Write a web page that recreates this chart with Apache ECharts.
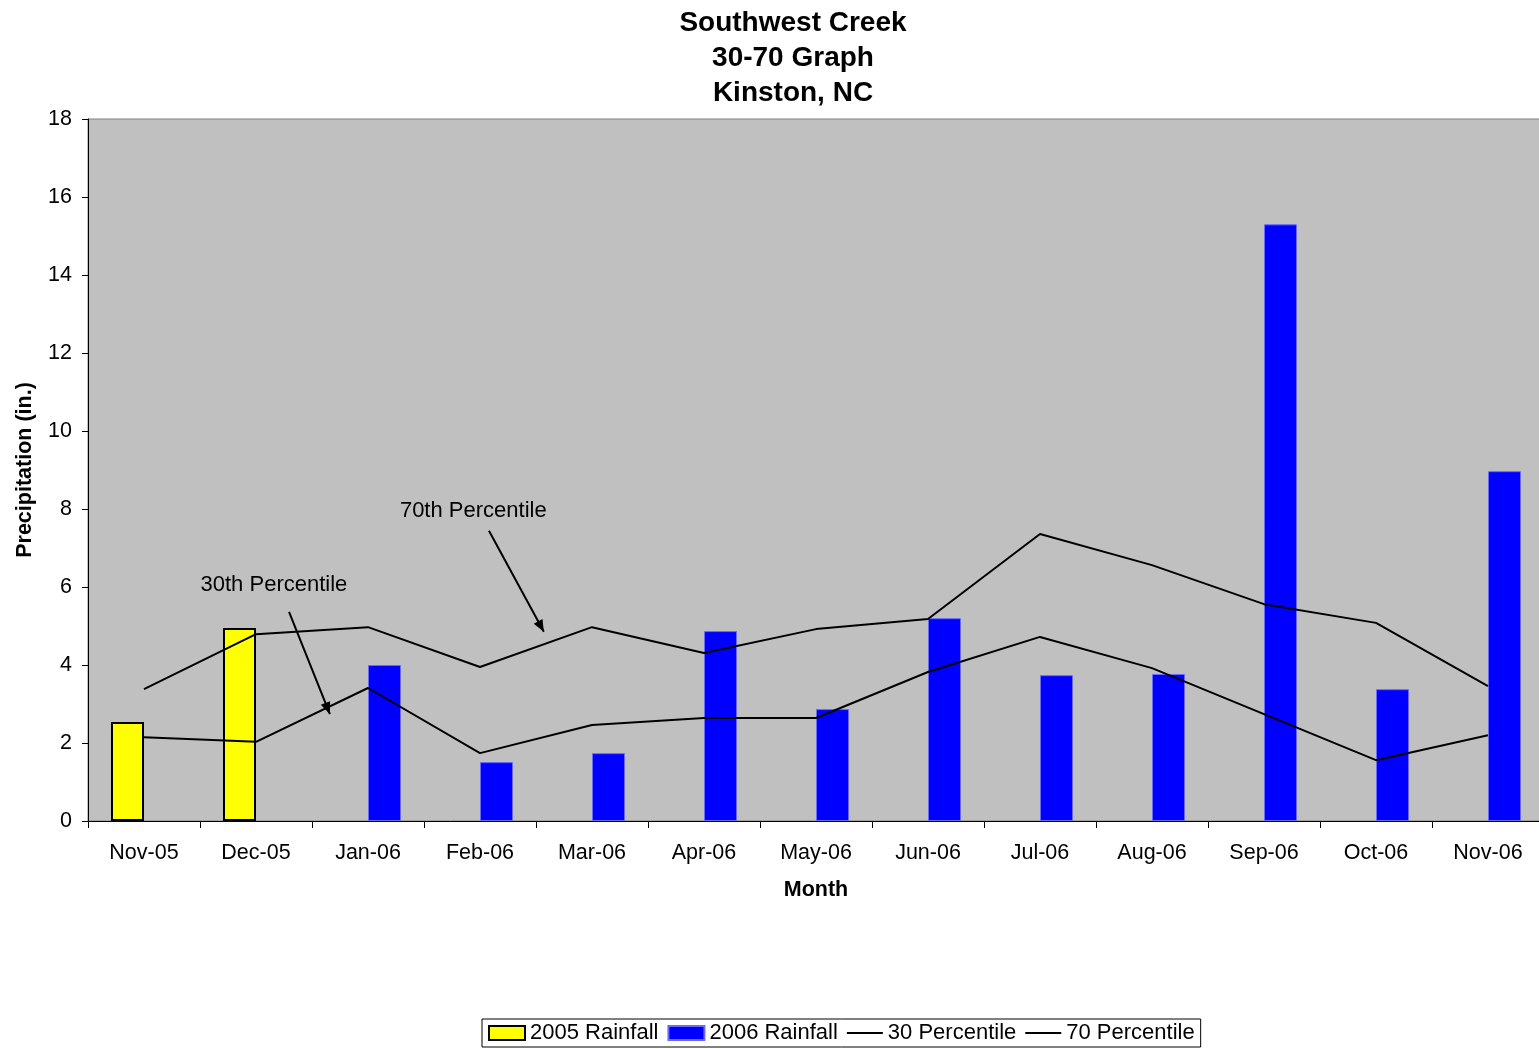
<!DOCTYPE html>
<html>
<head>
<meta charset="utf-8">
<script src="https://cdn.jsdelivr.net/npm/echarts@6/dist/echarts.min.js"></script>
<style>
  html, body { margin: 0; padding: 0; background: #fff; overflow: hidden; }
  #chart { width: 1539px; height: 1049px; }
</style>
</head>
<body>
<div id="chart"></div>
<script>
const months = ['Nov-05', 'Dec-05', 'Jan-06', 'Feb-06', 'Mar-06', 'Apr-06', 'May-06',
  'Jun-06', 'Jul-06', 'Aug-06', 'Sep-06', 'Oct-06', 'Nov-06'];
const rain2005 = [2.54, 4.95, '-', '-', '-', '-', '-', '-', '-', '-', '-', '-', '-'];
const rain2006 = ['-', '-', 4.0, 1.51, 1.74, 4.87, 2.87, 5.2, 3.74, 3.77, 15.3, 3.38, 8.97];
const pct30 = [2.15, 2.03, 3.41, 1.74, 2.46, 2.64, 2.64, 3.82, 4.72, 3.92, 2.74, 1.56, 2.2];
const pct70 = [3.38, 4.79, 4.97, 3.95, 4.97, 4.31, 4.92, 5.18, 7.36, 6.56, 5.56, 5.08, 3.46];
const yTicks = [0, 2, 4, 6, 8, 10, 12, 14, 16, 18];

// callouts: text position and arrow, in category index / value units
const callouts = [
  { text: '70th Percentile', at: [2.94, 7.95], from: [3.08, 7.44], to: [3.57, 4.85] },
  { text: '30th Percentile', at: [1.16, 6.05], from: [1.295, 5.36], to: [1.66, 2.74] }
];

const font = 'Liberation Sans, Arial, sans-serif';
const lineIcon = 'path://M0,0H36V2H0Z';
const chart = echarts.init(document.getElementById('chart'));

const option = {
  animation: false,
  textStyle: { fontFamily: font, color: '#000' },
  title: {
    text: 'Southwest Creek\n30-70 Graph\nKinston, NC',
    left: 788,
    textAlign: 'center',
    top: 1,
    textStyle: { fontFamily: font, fontSize: 28, fontWeight: 'bold', lineHeight: 35, color: '#000' }
  },
  legend: {
    left: 482,
    top: 1019,
    padding: [3, 6, 3, 6],
    borderColor: '#000',
    borderWidth: 1,
    itemWidth: 36,
    itemHeight: 14,
    itemGap: 9,
    symbolKeepAspect: true,
    textStyle: { fontFamily: font, fontSize: 22, color: '#000' },
    data: [
      { name: '2005 Rainfall', icon: 'rect' },
      { name: '2006 Rainfall', icon: 'rect' },
      { name: '30 Percentile', icon: lineIcon },
      { name: '70 Percentile', icon: lineIcon }
    ]
  },
  grid: {
    left: 88, right: -5, top: 119, bottom: 228,
    outerBoundsMode: 'none',
    containLabel: false,
    show: true,
    backgroundColor: '#c0c0c0',
    borderColor: '#808080',
    borderWidth: 1
  },
  xAxis: {
    type: 'category',
    data: months,
    boundaryGap: true,
    name: 'Month',
    nameLocation: 'middle',
    nameGap: 58,
    nameTextStyle: { fontFamily: font, fontSize: 21.5, fontWeight: 'bold', color: '#000' },
    axisLine: { lineStyle: { color: '#000', width: 1 } },
    axisTick: { show: true, length: 7, alignWithLabel: false, lineStyle: { color: '#000' } },
    axisLabel: { fontFamily: font, fontSize: 21.5, color: '#000', margin: 21, interval: 0 },
    splitLine: { show: false }
  },
  yAxis: {
    type: 'value',
    min: 0,
    max: 18,
    interval: 2,
    name: 'Precipitation (in.)',
    nameLocation: 'middle',
    nameGap: 52,
    nameTextStyle: { fontFamily: font, fontSize: 21.5, fontWeight: 'bold', color: '#000' },
    axisLine: { show: true, lineStyle: { color: '#000', width: 1 } },
    axisTick: { show: true, length: 6, lineStyle: { color: '#000' } },
    axisLabel: {
      fontFamily: font, fontSize: 21.5, color: '#000', margin: 16,
      formatter: v => yTicks.includes(v) ? String(v) : ''
    },
    splitLine: { show: false }
  },
  series: [
    {
      name: '2005 Rainfall',
      type: 'bar',
      data: rain2005,
      barWidth: 33,
      barGap: '0%',
      itemStyle: { color: '#ffff00', borderColor: '#000', borderWidth: 2 },
      z: 2
    },
    {
      name: '2006 Rainfall',
      type: 'bar',
      data: rain2006,
      barWidth: 33,
      barGap: '0%',
      itemStyle: { color: '#0000ff', borderColor: '#6a6aff', borderWidth: 1 },
      z: 2
    },
    {
      name: '30 Percentile',
      type: 'line',
      data: pct30,
      symbol: 'none',
      lineStyle: { color: '#000', width: 2 },
      itemStyle: { color: '#000' },
      z: 3
    },
    {
      name: '70 Percentile',
      type: 'line',
      data: pct70,
      symbol: 'none',
      lineStyle: { color: '#000', width: 2 },
      itemStyle: { color: '#000' },
      z: 3
    }
  ]
};

chart.setOption(option);

// annotations placed from data coordinates (fractional category index interpolated)
const toPx = p => {
  const i0 = Math.floor(p[0]);
  const a = chart.convertToPixel({ gridIndex: 0 }, [i0, p[1]]);
  const b = chart.convertToPixel({ gridIndex: 0 }, [i0 + 1, p[1]]);
  return [a[0] + (p[0] - i0) * (b[0] - a[0]), a[1]];
};
const graphics = [];
callouts.forEach(c => {
  const t = toPx(c.at);
  const a = toPx(c.from);
  const b = toPx(c.to);
  graphics.push({
    type: 'text',
    x: t[0], y: t[1],
    style: { text: c.text, fontFamily: font, fontSize: 22, fill: '#000', align: 'center', verticalAlign: 'middle' },
    z: 10
  });
  graphics.push({
    type: 'line',
    shape: { x1: a[0], y1: a[1], x2: b[0], y2: b[1] },
    style: { stroke: '#000', lineWidth: 2 },
    z: 10
  });
  const ang = Math.atan2(b[1] - a[1], b[0] - a[0]);
  const len = 12, half = 5;
  const bx = b[0] - len * Math.cos(ang), by = b[1] - len * Math.sin(ang);
  const nx = -Math.sin(ang) * half, ny = Math.cos(ang) * half;
  graphics.push({
    type: 'polygon',
    shape: { points: [[b[0], b[1]], [bx + nx, by + ny], [bx - nx, by - ny]] },
    style: { fill: '#000' },
    z: 10
  });
});
chart.setOption({ graphic: graphics });
</script>
</body>
</html>
